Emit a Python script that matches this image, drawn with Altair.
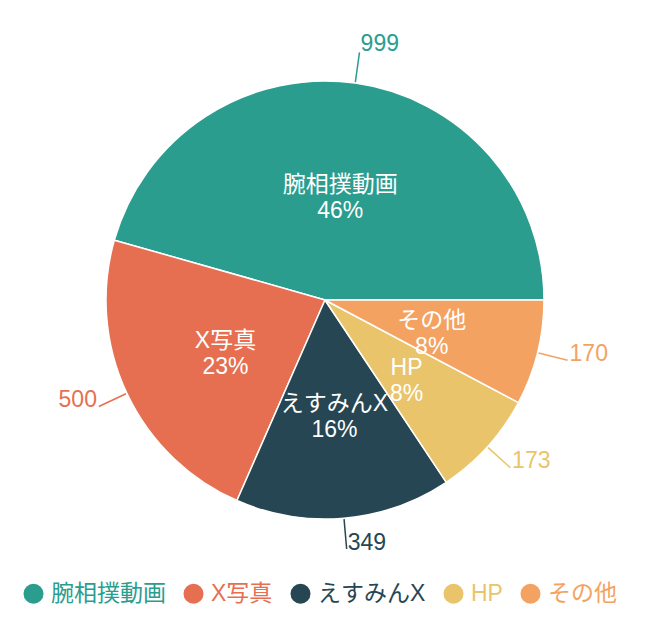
import math
import altair as alt
import pandas as pd

categories = ["腕相撲動画", "X写真", "えすみんX", "HP", "その他"]
values = [999, 500, 349, 173, 170]
colors = ["#2a9d8f", "#e76f51", "#264653", "#e9c46a", "#f4a261"]

df = pd.DataFrame({"cat": categories, "value": values, "idx": list(range(len(values)))})

FONT = "Liberation Sans, Noto Sans CJK JP, sans-serif"
CX, CY = 317, 292
R = 219

theta_scale = alt.Scale(range=[2.5 * math.pi, 0.5 * math.pi], zero=True, nice=False)
color_scale = alt.Scale(domain=categories, range=colors)

base = (
    alt.Chart(df)
    .transform_joinaggregate(total="sum(value)")
    .transform_window(cum_end="sum(value)", sort=[alt.SortField("idx")], frame=[None, 0])
    .transform_calculate(cum_start="datum.cum_end - datum.value")
    .transform_calculate(mid="(datum.cum_start + datum.cum_end) / 2")
    .transform_calculate(frac="datum.mid / datum.total")
    .transform_calculate(label="datum.cat + '\\n' + format(datum.value / datum.total, '.0%')")
)

pie = base.mark_arc(radius=R, stroke="white", strokeWidth=1.5).encode(
    theta=alt.Theta("cum_end:Q", scale=theta_scale),
    theta2="cum_start:Q",
    color=alt.Color(
        "cat:N",
        scale=color_scale,
        legend=alt.Legend(
            title=None,
            orient="none",
            legendX=14,
            legendY=574,
            direction="horizontal",
            symbolType="circle",
            symbolSize=400,
            symbolStrokeWidth=0,
            labelFontSize=23,
            labelFont=FONT,
            labelOffset=6,
            columnPadding=16,
            padding=0,
            labelColor={"expr": "scale('color', datum.value)"},
        ),
    ),
    x=alt.value(CX),
    y=alt.value(CY),
)

leaders = base.mark_arc(radius=R + 1, radius2=R + 31, filled=False, strokeWidth=1.5).encode(
    theta=alt.Theta("mid:Q", scale=theta_scale),
    theta2="mid:Q",
    stroke=alt.Stroke("cat:N", scale=color_scale, legend=None),
    x=alt.value(CX),
    y=alt.value(CY),
)

inner = base.mark_text(
    radius=110, color="white", fontSize=23, font=FONT, lineBreak="\n",
    lineHeight=26, baseline="middle", align="center", dy=-6,
).encode(
    theta=alt.Theta("mid:Q", scale=theta_scale),
    text="label:N",
    x=alt.value(CX),
    y=alt.value(CY),
)

right_vals = base.transform_filter("datum.frac <= 0.25 || datum.frac >= 0.75").mark_text(
    radius=R + 32, fontSize=23, font=FONT, align="left", baseline="alphabetic", dx=1,
).encode(
    theta=alt.Theta("mid:Q", scale=theta_scale),
    text="value:Q",
    fill=alt.Fill("cat:N", scale=color_scale, legend=None),
    x=alt.value(CX),
    y=alt.value(CY),
)

left_vals = base.transform_filter("datum.frac > 0.25 && datum.frac < 0.75").mark_text(
    radius=R + 32, fontSize=23, font=FONT, align="right", baseline="alphabetic", dx=-1,
).encode(
    theta=alt.Theta("mid:Q", scale=theta_scale),
    text="value:Q",
    fill=alt.Fill("cat:N", scale=color_scale, legend=None),
    x=alt.value(CX),
    y=alt.value(CY),
)

chart = (
    alt.layer(pie, leaders, inner, right_vals, left_vals)
    .properties(width=636, height=620, padding=0)
    .configure_view(stroke=None)
)

chart.save("out.html", embed_options={"renderer": "svg", "actions": False})
